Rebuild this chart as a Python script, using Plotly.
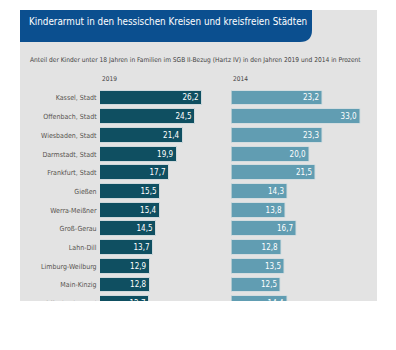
import plotly.graph_objects as go

# ---- data ----
categories = ["Kassel, Stadt", "Offenbach, Stadt", "Wiesbaden, Stadt", "Darmstadt, Stadt",
              "Frankfurt, Stadt", "Gießen", "Werra-Meißner", "Groß-Gerau", "Lahn-Dill",
              "Limburg-Weilburg", "Main-Kinzig", "Offenbach, Land"]
values_2019 = [26.2, 24.5, 21.4, 19.9, 17.7, 15.5, 15.4, 14.5, 13.7, 12.9, 12.8, 12.7]
values_2014 = [23.2, 33.0, 23.3, 20.0, 21.5, 14.3, 13.8, 16.7, 12.8, 13.5, 12.5, 14.4]
year_labels = ["2019", "2014"]
title_text = "Kinderarmut in den hessischen Kreisen und kreisfreien Städten"
subtitle_text = ("Anteil der Kinder unter 18 Jahren in Familien im SGB II-Bezug (Hartz IV) "
                 "in den Jahren 2019 und 2014 in Prozent")

W, H = 396, 350
def px(x):
    return x / W
def py(y):
    return 1 - y / H

FONT = "Liberation Sans Narrow, DejaVu Sans Condensed, Liberation Sans, Arial, sans-serif"
PANEL = "#e3e3e3"
TITLE_BLUE = "#0b4f8f"
DARK = "#0f4f61"
LIGHT = "#619db2"

idx = list(range(len(categories)))
fmt = lambda v: f"{v:.1f}".replace(".", ",")

fig = go.Figure()
fig.add_trace(go.Bar(
    x=values_2019, y=idx, orientation="h", width=0.8,
    marker=dict(color=DARK, line=dict(color="#cfd9dc", width=1)),
    text=[fmt(v) for v in values_2019], textposition="inside", insidetextanchor="end",
    textangle=0, constraintext="none", textfont=dict(color="white", size=8, family=FONT),
    xaxis="x", yaxis="y", showlegend=False, hoverinfo="skip"))
fig.add_trace(go.Bar(
    x=values_2014, y=idx, orientation="h", width=0.8,
    marker=dict(color=LIGHT, line=dict(color="#d3dde0", width=1)),
    text=[fmt(v) for v in values_2014], textposition="inside", insidetextanchor="end",
    textangle=0, constraintext="none", textfont=dict(color="white", size=8, family=FONT),
    xaxis="x2", yaxis="y2", showlegend=False, hoverinfo="skip"))

pitch = 18.7
c0 = 98.0
top_px, bot_px = 84.0, 315.0
yr = [(bot_px - c0) / pitch, (top_px - c0) / pitch]
ydom = [py(bot_px), py(top_px)]

left_start, left_w, left_scale = 100.0, 120.0, 3.88
right_start, right_w, right_scale = 231.5, 140.0, 3.92

fig.update_layout(
    width=W, height=H, margin=dict(l=0, r=0, t=0, b=0),
    paper_bgcolor="white", plot_bgcolor="rgba(0,0,0,0)",
    font=dict(family=FONT, color="#555555"),
    bargap=0,
    xaxis=dict(domain=[px(left_start), px(left_start + left_w)], range=[0, left_w / left_scale],
               visible=False, fixedrange=True),
    xaxis2=dict(domain=[px(right_start), px(right_start + right_w)], range=[0, right_w / right_scale],
                visible=False, fixedrange=True, anchor="y2"),
    yaxis=dict(domain=ydom, range=yr, tickvals=idx, ticktext=categories, showgrid=False,
               zeroline=False, showline=False, ticks="outside", ticklen=1, tickcolor="rgba(0,0,0,0)",
               tickfont=dict(size=7, color="#585450", family=FONT), anchor="x"),
    yaxis2=dict(domain=ydom, range=yr, showticklabels=False, showgrid=False, zeroline=False,
                showline=False, anchor="x2"),
    shapes=[
        dict(type="rect", xref="paper", yref="paper", x0=px(20), x1=px(377), y0=py(301), y1=py(10),
             fillcolor=PANEL, line=dict(width=0), layer="below"),
        dict(type="path", xref="paper", yref="paper",
             path=(f"M {px(20)},{py(10)} L {px(312)},{py(10)} L {px(312)},{py(30)} "
                   f"Q {px(312)},{py(42)} {px(300)},{py(42)} L {px(20)},{py(42)} Z"),
             fillcolor=TITLE_BLUE, line=dict(width=0), layer="below"),
        dict(type="rect", xref="paper", yref="paper", x0=0, x1=1, y0=0, y1=py(301),
             fillcolor="white", line=dict(width=0), layer="above"),
    ],
    annotations=[
        dict(text=title_text, xref="paper", yref="paper", x=px(27), y=py(22), xanchor="left",
             yanchor="middle", showarrow=False,
             font=dict(size=9.8, color="white", family=FONT)),
        dict(text=subtitle_text, xref="paper", yref="paper", x=px(28), y=py(60), xanchor="left",
             yanchor="middle", showarrow=False, font=dict(size=6.6, color="#444444", family=FONT)),
        dict(text=year_labels[0], xref="paper", yref="paper", x=px(100), y=py(79), xanchor="left",
             yanchor="middle", showarrow=False, font=dict(size=6.5, color="#444444", family=FONT)),
        dict(text=year_labels[1], xref="paper", yref="paper", x=px(231), y=py(79), xanchor="left",
             yanchor="middle", showarrow=False, font=dict(size=6.5, color="#444444", family=FONT)),
    ],
)

fig.write_html("out.html")
